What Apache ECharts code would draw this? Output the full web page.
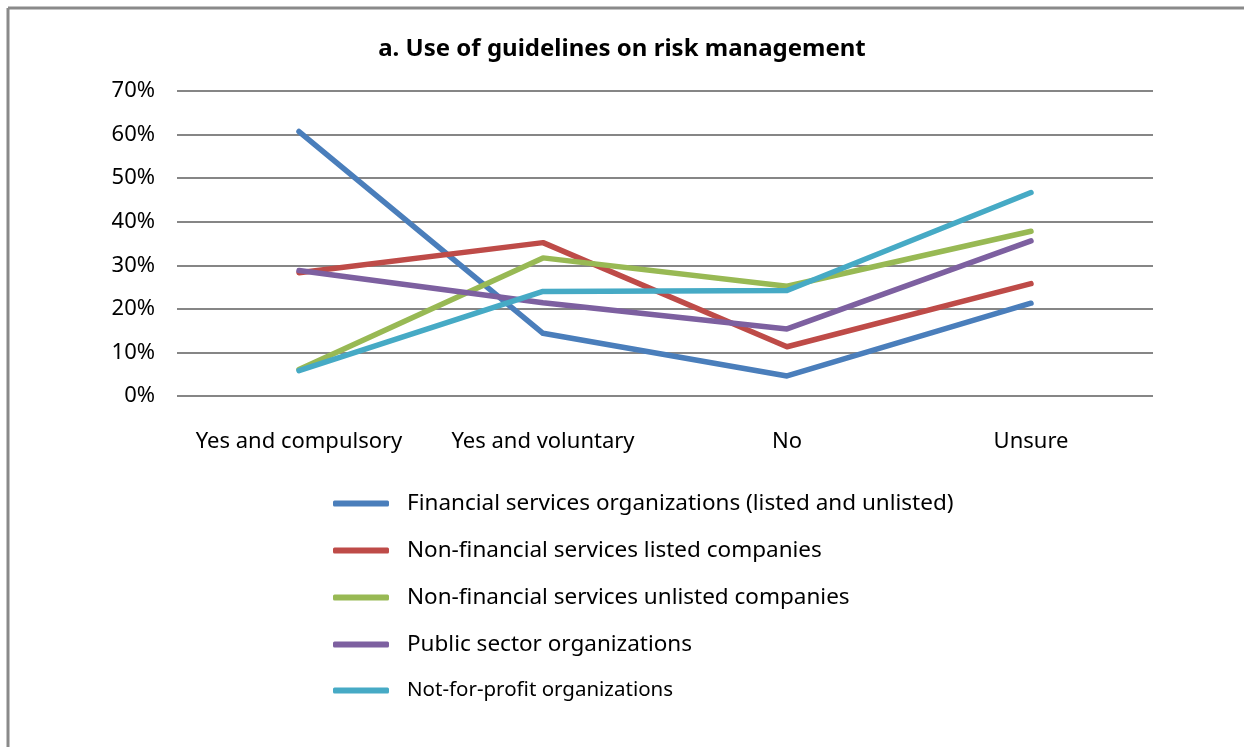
<!DOCTYPE html>
<html lang="en">
<head>
    <meta charset="UTF-8">
    <script src="https://cdn.jsdelivr.net/npm/echarts@6/dist/echarts.min.js"></script>
    <title>Use of guidelines on risk management</title>
    <style>
        * { margin: 0; padding: 0; }
        body { background: #fff; }
        #main { width: 1244px; height: 747px; }
    </style>
</head>
<body>
<div id="main"></div>
<script>
    // categories and values (percent)
    var categories = ['Yes and compulsory', 'Yes and voluntary', 'No', 'Unsure'];
    var financial = [60.7, 14.4, 4.6, 21.3];
    var nonFinListed = [28.3, 35.2, 11.3, 25.8];
    var nonFinUnlisted = [6.1, 31.7, 25.2, 37.8];
    var publicSector = [28.8, 21.4, 15.4, 35.6];
    var notForProfit = [5.8, 24.0, 24.2, 46.7];

    var seriesNames = [
        'Financial services organizations (listed and unlisted)',
        'Non-financial services listed companies',
        'Non-financial services unlisted companies',
        'Public sector organizations',
        'Not-for-profit organizations'
    ];
    var seriesData = [financial, nonFinListed, nonFinUnlisted, publicSector, notForProfit];
    var colors = ['#4a7ebb', '#be4b48', '#98b954', '#7d60a0', '#46aac5'];

    var chartDom = document.getElementById('main');
    var myChart = echarts.init(chartDom);
    var font = '"Noto Sans", sans-serif';

    var option = {
        animation: false,
        color: colors,
        title: {
            text: 'a. Use of guidelines on risk management',
            left: 'center',
            top: 32,
            textStyle: {
                fontFamily: font,
                fontSize: 24,
                fontWeight: 'bold',
                color: '#000'
            }
        },
        legend: {
            orient: 'vertical',
            left: 333,
            top: 492,
            padding: 0,
            itemWidth: 56,
            itemHeight: 6,
            itemGap: 24,
            icon: 'roundRect',
            textStyle: {
                fontFamily: font,
                fontSize: 22.5,
                color: '#000',
                padding: [0, 0, 0, 13]
            },
            data: seriesNames.map(function (n, i) {
                return i === 4 ? { name: n, textStyle: { fontSize: 20.5 } } : { name: n };
            })
        },
        grid: {
            left: 177,
            right: 91,
            top: 91,
            bottom: 351
        },
        xAxis: {
            type: 'category',
            data: categories,
            boundaryGap: true,
            axisLine: { show: false },
            axisTick: { show: false },
            axisLabel: {
                interval: 0,
                margin: 35,
                fontFamily: font,
                fontSize: 22,
                color: '#000'
            }
        },
        yAxis: {
            type: 'value',
            min: 0,
            max: 70,
            interval: 10,
            axisLine: { show: false },
            axisTick: { show: false },
            axisLabel: {
                margin: 22,
                formatter: '{value}%',
                fontFamily: font,
                fontSize: 22,
                color: '#000'
            },
            splitLine: { lineStyle: { color: '#868686', width: 2 } }
        },
        graphic: [
            { type: 'line', shape: { x1: 8, y1: 8, x2: 1244, y2: 8 }, style: { stroke: '#8a8a8a', lineWidth: 3 } },
            { type: 'line', shape: { x1: 8, y1: 8, x2: 8, y2: 747 }, style: { stroke: '#8a8a8a', lineWidth: 3 } }
        ],
        series: seriesNames.map(function (n, i) {
            return {
                name: n,
                type: 'line',
                data: seriesData[i],
                symbol: 'none',
                lineStyle: { width: 5.5, cap: 'round', join: 'round', color: colors[i] },
                itemStyle: { color: colors[i] },
                emphasis: { disabled: true }
            };
        })
    };

    myChart.setOption(option);
</script>
</body>
</html>
